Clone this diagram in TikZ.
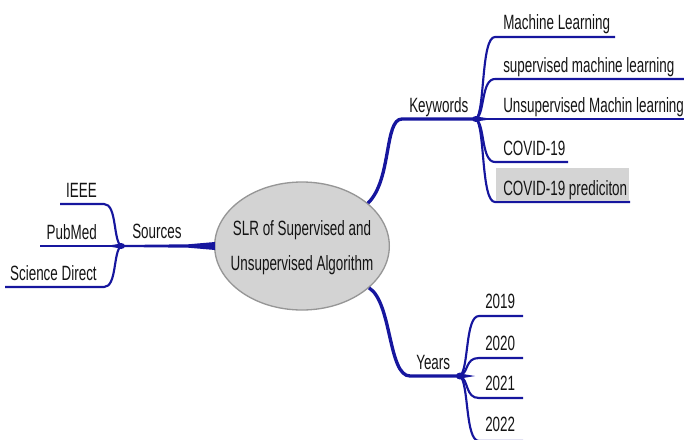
\documentclass[tikz,border=0pt]{standalone}
\usepackage{fontspec}
\setmainfont{Liberation Sans}[FakeStretch=0.65]
\usetikzlibrary{shapes.geometric,calc}
\definecolor{branch}{RGB}{22,22,158}
\definecolor{ellfill}{RGB}{211,211,211}
\definecolor{ellline}{RGB}{150,150,150}
\definecolor{boxgray}{RGB}{212,212,212}
\definecolor{txt}{RGB}{20,20,20}
\begin{document}
\begin{tikzpicture}[x=0.75pt,y=-0.75pt,
  font=\fontsize{15.5pt}{26.25pt}\selectfont,
  lbl/.style={inner sep=0pt, text=txt},
  leaf/.style={draw=branch, line width=1.6pt},
  mainline/.style={draw=branch, line width=2.5pt},
]
\useasboundingbox (0,0) rectangle (684,439);

% hubs
\coordinate (srchub) at (121,246);
\coordinate (kwhub) at (476,119);
\coordinate (yrhub) at (460,376);
\coordinate (kwbend) at (402,119);
\coordinate (yrbend) at (410,376);

% ---------------- centre
\node (c) [ellipse, fill=ellfill, draw=ellline, line width=1pt,
  minimum width=131pt, minimum height=96pt, inner sep=0pt]
  at (302,246) {};
\node[lbl, align=center] (ctext) at (302,248) {SLR of Supervised and\\Unsupervised Algorithm};

% ---------------- Sources
\fill[branch] ($(c.west)+(1,-4)$) -- (188,244.3) -- (120,245) -- (120,247) -- (188,247.7) -- ($(c.west)+(1,4)$) -- cycle;
\node[lbl, anchor=base west] (src) at (132,238) {Sources};
\coordinate (ieeeend) at (60,204);
\coordinate (pubend) at (40,246);
\coordinate (sciend) at (5,287);
\draw[leaf] (srchub) .. controls (113,240) and (117,204) .. (104,204) -- (ieeeend);
\draw[leaf] (srchub) -- (pubend);
\draw[leaf] (srchub) .. controls (113,252) and (117,287) .. (104,287) -- (sciend);
\fill[branch] (srchub) ellipse (4 and 3);
\fill[branch] (121,243.5) -- (106,246) -- (121,248.5) -- cycle;
\node[lbl, anchor=base east] (ieee) at (97,197) {IEEE};
\node[lbl, anchor=base east] (pub) at (97,239) {PubMed};
\node[lbl, anchor=base east] (sci) at (97,280) {Science Direct};

% ---------------- Keywords
\draw[mainline] (c.33) .. controls (392,180) and (384,119) .. (kwbend) -- (kwhub);
\node[lbl, anchor=base west] (kw) at (409,112) {Keywords};
\coordinate (kw1end) at (615,37);
\coordinate (kw2end) at (684,79);
\coordinate (kw3end) at (684,119);
\coordinate (kw4end) at (568,162);
\coordinate (kw5end) at (630,202);
\draw[leaf] (kwhub) .. controls (485,112) and (481,37) .. (495,37) -- (kw1end);
\draw[leaf] (kwhub) .. controls (485,114) and (481,79) .. (495,79) -- (kw2end);
\draw[leaf] (kwhub) -- (kw3end);
\draw[leaf] (kwhub) .. controls (485,124) and (481,162) .. (495,162) -- (kw4end);
\draw[leaf] (kwhub) .. controls (485,126) and (481,202) .. (495,202) -- (kw5end);
\fill[branch] (kwhub) ellipse (4 and 3);
\fill[branch] (476,116.5) -- (493,119) -- (476,121.5) -- cycle;
\node[fill=boxgray, inner sep=0pt, minimum width=99.75pt, minimum height=24.75pt, anchor=north west] (kw5box) at (496,168) {};
\node[lbl, anchor=base west] (kw1) at (503,29) {Machine Learning};
\node[lbl, anchor=base west] (kw2) at (503,72) {supervised machine learning};
\node[lbl, anchor=base west] (kw3) at (503,112) {Unsupervised Machin learning};
\node[lbl, anchor=base west] (kw4) at (503,155) {COVID-19};
\node[lbl, anchor=base west] (kw5) at (503,195) {COVID-19 prediciton};

% ---------------- Years
\draw[mainline] (c.-32) .. controls (392,302) and (388,376) .. (yrbend) -- (yrhub);
\node[lbl, anchor=base west] (yr) at (416,369) {Years};
\coordinate (y1end) at (523,316);
\coordinate (y2end) at (523,358);
\coordinate (y3end) at (523,398);
\coordinate (y4end) at (523,441);
\draw[leaf] (yrhub) .. controls (469,369) and (465,316) .. (479,316) -- (y1end);
\draw[leaf] (yrhub) .. controls (469,372) and (465,358) .. (479,358) -- (y2end);
\draw[leaf] (yrhub) .. controls (469,380) and (465,398) .. (479,398) -- (y3end);
\draw[leaf] (yrhub) .. controls (469,383) and (465,441) .. (479,441) -- (y4end);
\fill[branch] (yrhub) ellipse (4 and 3.5);
\fill[branch] (460,373.5) -- (475,376) -- (460,378.5) -- cycle;
\node[lbl, anchor=base west] (y1) at (485,308) {2019};
\node[lbl, anchor=base west] (y2) at (485,350) {2020};
\node[lbl, anchor=base west] (y3) at (485,390) {2021};
\node[lbl, anchor=base west] (y4) at (485,431) {2022};
\end{tikzpicture}
\end{document}
